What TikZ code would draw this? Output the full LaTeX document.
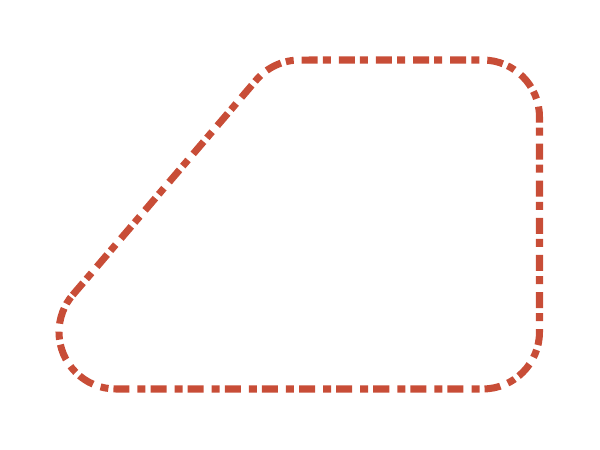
\documentclass[tikz,border=0pt]{standalone}
\usetikzlibrary{calc}
\definecolor{OutlineClr}{RGB}{200,77,55}

\begin{document}
\begin{tikzpicture}
\useasboundingbox (0,0) rectangle (15,11.25);
\tikzset{outline/.style={line width=5pt,color=OutlineClr,dash pattern=on 11.4pt off 3.6pt on 5.7pt off 5.7pt}}

\coordinate (T1) at (1.8175,3.875);
\coordinate (T2) at (6.4075,9.25);
\coordinate (TR) at (12.0625,9.75);
\coordinate (RB) at (13.4875,2.95);
\coordinate (BL) at (2.9,1.525);

\draw[outline] (T1) -- (T2) arc[start angle=139.5,end angle=90,radius=1.425]
  -- (TR) arc[start angle=90,end angle=0,radius=1.425]
  -- (RB) arc[start angle=0,end angle=-90,radius=1.425]
  -- (BL) arc[start angle=-90,end angle=-220.5,radius=1.425] -- cycle;

\end{tikzpicture}
\end{document}
